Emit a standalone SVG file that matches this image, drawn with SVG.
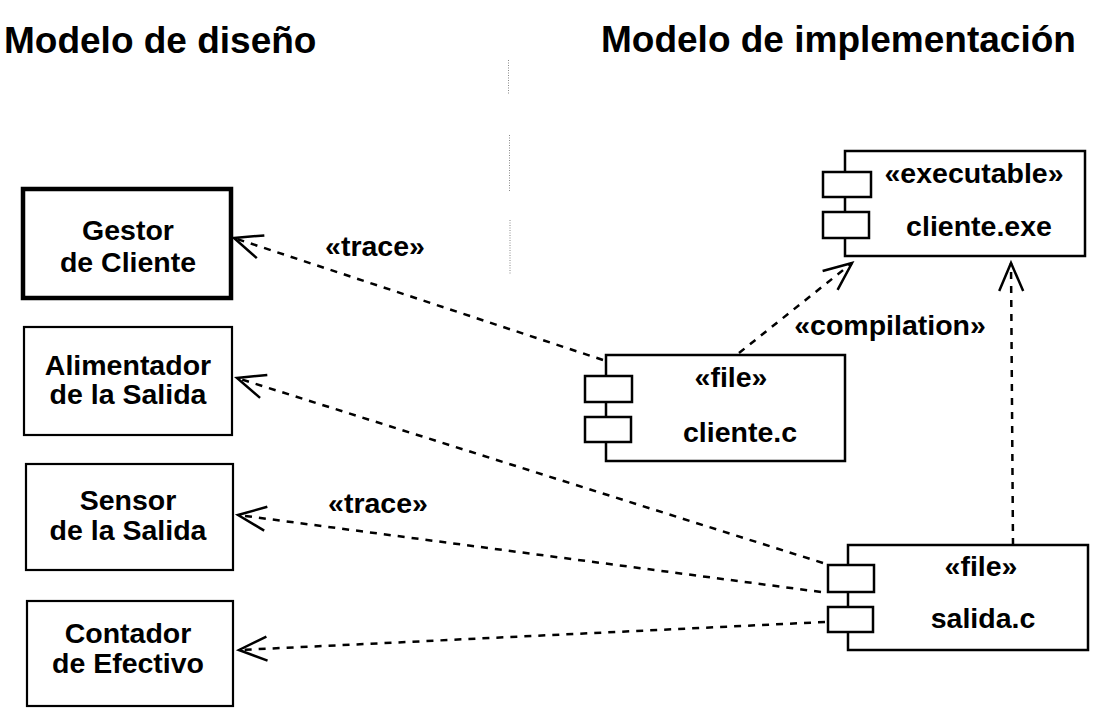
<svg xmlns="http://www.w3.org/2000/svg" width="1100" height="722" viewBox="0 0 1100 722">
  <style>
    .title { font-family: "Liberation Sans", Arial, sans-serif; font-weight: bold; font-size: 37px; fill: #000; }
    .t { font-family: "Liberation Sans", Arial, sans-serif; font-weight: bold; font-size: 28.5px; fill: #000; text-anchor: middle; }
    .box { fill: #fff; stroke: #000; stroke-width: 2.2; }
    .thick { fill: #fff; stroke: #000; stroke-width: 4.5; }
    .comp { fill: #fff; stroke: #000; stroke-width: 2.5; }
    .dep { fill: none; stroke: #000; stroke-width: 2.5; stroke-dasharray: 7 7; marker-end: url(#open); }
    .sep { fill: none; stroke: #888; stroke-width: 1; stroke-dasharray: 1 1.5; }
  </style>
  <defs>
    <marker id="open" markerUnits="userSpaceOnUse" viewBox="-32 -16 34 32" refX="0" refY="0" markerWidth="34" markerHeight="32" orient="auto" overflow="visible">
      <path d="M-28,-12 L0,0 L-28,12" fill="none" stroke="#000" stroke-width="2.5" stroke-dasharray="none"/>
    </marker>
  </defs>
  <rect x="0" y="0" width="1100" height="722" fill="#fff"/>

  <text class="title" x="4" y="53">Modelo de diseño</text>
  <text class="title" x="601" y="52">Modelo de implementación</text>

  <g id="separator">
    <line class="sep" x1="508.5" y1="60" x2="508.5" y2="95"/>
    <line class="sep" x1="509.5" y1="135" x2="509.5" y2="192"/>
    <line class="sep" x1="510" y1="220" x2="510" y2="275"/>
  </g>

  <g id="connectors">
    <path class="dep" d="M603,360 L234,238"/>
    <path class="dep" d="M823,563 L237,378"/>
    <path class="dep" d="M821,592 L238,515"/>
    <path class="dep" d="M825,622 L239,650"/>
    <path class="dep" d="M739,353 L852,263"/>
    <path class="dep" d="M1013,545 L1011,263"/>
    <text class="t" x="375" y="256">«trace»</text>
    <text class="t" x="378" y="513">«trace»</text>
    <text class="t" x="890" y="335">«compilation»</text>
  </g>

  <g id="gestor">
    <rect class="thick" x="23" y="189" width="208" height="109"/>
    <text class="t" x="128" y="240">Gestor</text>
    <text class="t" x="128" y="272">de Cliente</text>
  </g>
  <g id="alimentador">
    <rect class="box" x="24" y="327" width="208" height="108"/>
    <text class="t" x="128" y="375">Alimentador</text>
    <text class="t" x="128" y="404">de la Salida</text>
  </g>
  <g id="sensor">
    <rect class="box" x="26" y="464" width="207" height="106"/>
    <text class="t" x="128" y="510">Sensor</text>
    <text class="t" x="128" y="540">de la Salida</text>
  </g>
  <g id="contador">
    <rect class="box" x="27" y="601" width="206" height="105"/>
    <text class="t" x="128" y="643">Contador</text>
    <text class="t" x="128" y="673">de Efectivo</text>
  </g>

  <g id="cliente-exe">
    <rect class="comp" x="845" y="151" width="240" height="105"/>
    <rect class="comp" x="823" y="172" width="48" height="25"/>
    <rect class="comp" x="823" y="212" width="46" height="26"/>
    <text class="t" x="974" y="183">«executable»</text>
    <text class="t" x="979" y="236">cliente.exe</text>
  </g>
  <g id="cliente-c">
    <rect class="comp" x="606" y="355" width="239" height="106"/>
    <rect class="comp" x="585" y="376" width="47" height="26"/>
    <rect class="comp" x="585" y="417" width="46" height="25"/>
    <text class="t" x="731" y="387">«file»</text>
    <text class="t" x="740" y="442">cliente.c</text>
  </g>
  <g id="salida-c">
    <rect class="comp" x="848" y="545" width="240" height="105"/>
    <rect class="comp" x="828" y="565" width="46" height="27"/>
    <rect class="comp" x="828" y="607" width="45" height="25"/>
    <text class="t" x="981" y="576">«file»</text>
    <text class="t" x="983" y="628">salida.c</text>
  </g>
</svg>
